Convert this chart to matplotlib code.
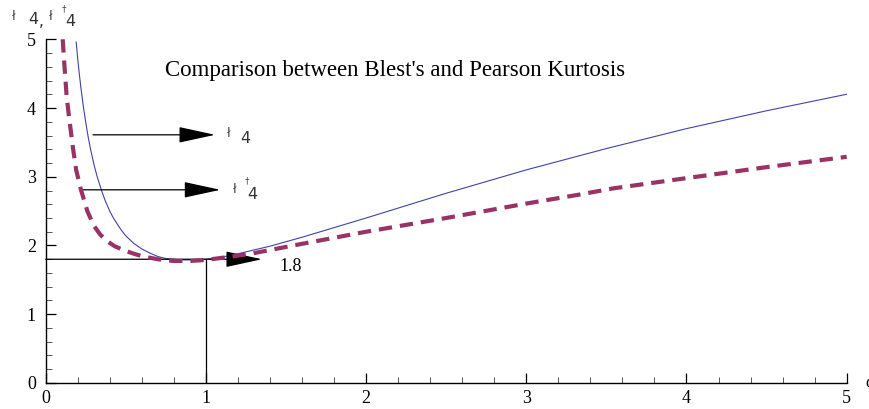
import matplotlib
matplotlib.use("Agg")
import matplotlib.pyplot as plt
from matplotlib.ticker import MultipleLocator

# Pearson kurtosis (solid blue)
alpha_p = [0.19, 0.20, 0.21, 0.22, 0.235, 0.25, 0.265, 0.28, 0.30, 0.32, 0.35, 0.37,
           0.40, 0.42, 0.45, 0.47, 0.50, 0.55, 0.60, 0.65, 0.70, 0.75, 0.80, 0.85,
           0.90, 1.00, 1.10, 1.20, 1.40, 1.60, 1.80, 2.00, 2.50, 3.00, 3.50,
           4.00, 4.50, 5.00]
pearson = [4.96, 4.71, 4.49, 4.29, 4.02, 3.79, 3.58, 3.40, 3.19, 3.01, 2.79, 2.66,
           2.50, 2.41, 2.30, 2.23, 2.14, 2.03, 1.95, 1.89, 1.84, 1.81, 1.80, 1.79,
           1.79, 1.80, 1.83, 1.88, 1.99, 2.12, 2.26, 2.40, 2.76, 3.10, 3.41,
           3.70, 3.96, 4.20]

# Blest's kurtosis (dashed purple)
alpha_b = [0.106, 0.116, 0.131, 0.145, 0.156, 0.17, 0.19, 0.22, 0.26, 0.30, 0.34,
           0.38, 0.43, 0.49, 0.55, 0.61, 0.70, 0.80, 0.90, 1.00, 1.13, 1.28, 1.59,
           2.00, 2.50, 3.00, 3.33, 3.54, 4.00, 4.50, 5.00]
blest = [5.00, 4.65, 4.16, 3.88, 3.68, 3.42, 3.10, 2.81, 2.50, 2.29, 2.16,
         2.07, 1.99, 1.93, 1.88, 1.84, 1.80, 1.775, 1.775, 1.79, 1.83, 1.88, 2.02,
         2.20, 2.40, 2.61, 2.74, 2.83, 2.98, 3.14, 3.29]

x_ticks = [0, 1, 2, 3, 4, 5]
y_ticks = [0, 1, 2, 3, 4, 5]
title = "Comparison between Blest's and Pearson Kurtosis"
ref_level = 1.8
ref_alpha = 1.0

fig = plt.figure(figsize=(8.69, 4.09), dpi=100)
ax = fig.add_axes([0.0526, 0.0636, 0.9217, 0.8404])
ax.set_xlim(0, 5)
ax.set_ylim(0, 5)

serif = "Liberation Serif"

ax.plot(alpha_p, pearson, color="#4242a8", lw=0.8, zorder=3)
ax.plot(alpha_b, blest, color="#993366", lw=3.0, dashes=(3.2, 1.9),
        dash_capstyle="butt", zorder=4)

for s in ["top", "right"]:
    ax.spines[s].set_visible(False)
for s in ["left", "bottom"]:
    ax.spines[s].set_linewidth(1.0)

ax.set_xticks(x_ticks)
ax.set_yticks(y_ticks)
ax.xaxis.set_minor_locator(MultipleLocator(0.2))
ax.yaxis.set_minor_locator(MultipleLocator(0.2))
ax.tick_params(which="major", direction="in", length=7, width=0.9, labelsize=13)
ax.tick_params(axis="x", which="major", pad=5)
ax.tick_params(axis="y", which="major", pad=7)
ax.tick_params(which="minor", direction="in", length=4, width=0.7, color="#555555")
for lab in ax.get_xticklabels() + ax.get_yticklabels():
    lab.set_fontfamily(serif)

ax.text(0.745, 4.55, title, fontsize=16.5, family=serif, ha="left", va="center")

arrow_props = dict(arrowstyle="-|>,head_length=2.3,head_width=0.5", lw=0.9,
                   color="black", shrinkA=0, shrinkB=0, mutation_scale=10)

# arrow for Pearson
ax.annotate("", xy=(1.057, 3.61), xytext=(0.295, 3.61), arrowprops=arrow_props)
ax.text(1.14, 3.63, "ł", fontsize=9, color="#444444", ha="center", va="center")
ax.text(1.245, 3.55, "4", fontsize=11.5, color="#333333", ha="center", va="center")

# arrow for Blest
ax.annotate("", xy=(1.09, 2.81), xytext=(0.22, 2.81), arrowprops=arrow_props)
ax.text(1.18, 2.82, "ł", fontsize=9, color="#444444", ha="center", va="center")
ax.text(1.255, 2.94, "†", fontsize=6.5, color="#444444", ha="center", va="center")
ax.text(1.29, 2.74, "4", fontsize=11.5, color="#333333", ha="center", va="center")

# reference level arrow and vertical line
ax.annotate("", xy=(1.35, ref_level), xytext=(0.0, ref_level), arrowprops=arrow_props)
ax.plot([ref_alpha, ref_alpha], [0, ref_level], color="black", lw=0.9)
ax.text(1.46, 1.69, "1.8", fontsize=13, family=serif, ha="left", va="center")

# y-axis label at top
fig.text(14 / 869, 1 - 16 / 409, "ł", fontsize=9, color="#444444", ha="center", va="center")
fig.text(33 / 869, 1 - 20 / 409, "4", fontsize=11.5, color="#333333", ha="center", va="center")
fig.text(41 / 869, 1 - 22 / 409, ",", fontsize=11, color="#333333", ha="center", va="center")
fig.text(51 / 869, 1 - 16 / 409, "ł", fontsize=9, color="#444444", ha="center", va="center")
fig.text(64 / 869, 1 - 9 / 409, "†", fontsize=6.5, color="#444444", ha="center", va="center")
fig.text(70 / 869, 1 - 22 / 409, "4", fontsize=11.5, color="#333333", ha="center", va="center")

# x-axis label at right edge (partly cut off)
fig.text(865 / 869, 1 - 383 / 409, "α", fontsize=12, family=serif, ha="left", va="center")

fig.savefig("out.png", dpi=100)
